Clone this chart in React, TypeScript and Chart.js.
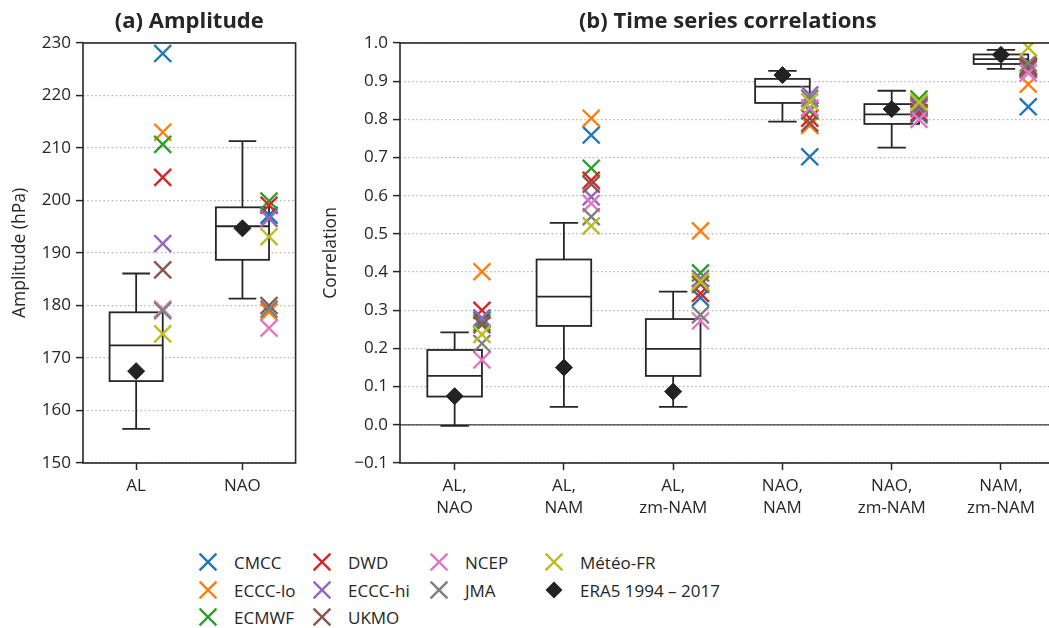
import React, { useEffect, useRef } from 'react';
import { Chart, registerables } from 'chart.js';

Chart.register(...registerables);

const FONT = '"Open Sans", "Noto Sans", sans-serif';
const INK = '#262626';

// ---------- shared ----------
const MODEL_NAMES = ['CMCC', 'ECCC-lo', 'ECMWF', 'DWD', 'ECCC-hi', 'UKMO', 'NCEP', 'JMA', 'Météo-FR'];
const MODEL_COLORS = ['#1f77b4', '#ff7f0e', '#2ca02c', '#d62728', '#9467bd', '#8c564b', '#e377c2', '#7f7f7f', '#bcbd22'];
const ERA5_LABEL = 'ERA5 1994 – 2017';
const ERA5_COLOR = '#222222';

// ---------- (a) Amplitude ----------
const AMP_TITLE = '(a) Amplitude';
const AMP_Y_TITLE = 'Amplitude (hPa)';
const AMP_CATEGORIES = ['AL', 'NAO'];
const AMP_Y_TICKS = [150, 160, 170, 180, 190, 200, 210, 220, 230];
const AMP_WHISKER_LOW = [156.5, 181.3];
const AMP_Q1 = [165.6, 188.7];
const AMP_MEDIAN = [172.4, 195.1];
const AMP_Q3 = [178.7, 198.7];
const AMP_WHISKER_HIGH = [186.1, 211.3];
const AMP_ERA5 = [167.5, 194.7];
const AMP_CMCC = [228.0, 197.2];
const AMP_ECCC_LO = [213.0, 178.8];
const AMP_ECMWF = [210.7, 199.9];
const AMP_DWD = [204.4, 199.1];
const AMP_ECCC_HI = [191.8, 196.6];
const AMP_UKMO = [186.8, 180.0];
const AMP_NCEP = [179.3, 175.7];
const AMP_JMA = [179.0, 179.3];
const AMP_METEO_FR = [174.6, 193.1];
const AMP_MODEL_VALUES = [AMP_CMCC, AMP_ECCC_LO, AMP_ECMWF, AMP_DWD, AMP_ECCC_HI, AMP_UKMO, AMP_NCEP, AMP_JMA, AMP_METEO_FR];

// ---------- (b) Time series correlations ----------
const CORR_TITLE = '(b) Time series correlations';
const CORR_Y_TITLE = 'Correlation';
const CORR_CATEGORIES = [
  ['AL,', 'NAO'],
  ['AL,', 'NAM'],
  ['AL,', 'zm-NAM'],
  ['NAO,', 'NAM'],
  ['NAO,', 'zm-NAM'],
  ['NAM,', 'zm-NAM'],
];
const CORR_Y_TICKS = [-0.1, 0.0, 0.1, 0.2, 0.3, 0.4, 0.5, 0.6, 0.7, 0.8, 0.9, 1.0];
const CORR_WHISKER_LOW = [-0.003, 0.047, 0.047, 0.794, 0.726, 0.932];
const CORR_Q1 = [0.074, 0.259, 0.128, 0.843, 0.788, 0.945];
const CORR_MEDIAN = [0.128, 0.336, 0.199, 0.886, 0.813, 0.958];
const CORR_Q3 = [0.196, 0.433, 0.277, 0.906, 0.840, 0.970];
const CORR_WHISKER_HIGH = [0.242, 0.529, 0.349, 0.927, 0.875, 0.982];
const CORR_ERA5 = [0.075, 0.150, 0.087, 0.916, 0.827, 0.969];
const CORR_CMCC = [0.275, 0.759, 0.333, 0.702, 0.812, 0.833];
const CORR_ECCC_LO = [0.401, 0.803, 0.508, 0.784, 0.832, 0.892];
const CORR_ECMWF = [0.268, 0.672, 0.398, 0.822, 0.853, 0.940];
const CORR_DWD = [0.300, 0.640, 0.344, 0.803, 0.818, 0.938];
const CORR_ECCC_HI = [0.280, 0.597, 0.383, 0.864, 0.828, 0.930];
const CORR_UKMO = [0.262, 0.630, 0.368, 0.790, 0.835, 0.935];
const CORR_NCEP = [0.170, 0.580, 0.272, 0.830, 0.800, 0.921];
const CORR_JMA = [0.213, 0.545, 0.288, 0.855, 0.840, 0.947];
const CORR_METEO_FR = [0.237, 0.521, 0.375, 0.846, 0.845, 0.988];
const CORR_MODEL_VALUES = [CORR_CMCC, CORR_ECCC_LO, CORR_ECMWF, CORR_DWD, CORR_ECCC_HI, CORR_UKMO, CORR_NCEP, CORR_JMA, CORR_METEO_FR];

// ---------- box plot drawing plugin (uses chart scales) ----------
const boxPlugin = {
  id: 'boxes',
  beforeDatasetsDraw(chart: any, _args: any, opts: any) {
    const { ctx, chartArea: ca, scales } = chart;
    const x = scales.x;
    const y = scales.y;
    ctx.save();
    ctx.beginPath();
    ctx.rect(ca.left, ca.top, ca.right - ca.left, ca.bottom - ca.top);
    ctx.clip();
    if (opts.zeroLine) {
      const y0 = y.getPixelForValue(0);
      ctx.strokeStyle = '#3a3a3a';
      ctx.lineWidth = 1.3;
      ctx.beginPath();
      ctx.moveTo(ca.left, y0);
      ctx.lineTo(ca.right, y0);
      ctx.stroke();
    }
    ctx.strokeStyle = INK;
    ctx.lineWidth = 1.8;
    const n = opts.med.length;
    for (let i = 0; i < n; i++) {
      const xl = x.getPixelForValue(i - opts.boxHalf);
      const xr = x.getPixelForValue(i + opts.boxHalf);
      const xc = x.getPixelForValue(i);
      const cl = x.getPixelForValue(i - opts.capHalf);
      const cr = x.getPixelForValue(i + opts.capHalf);
      const pLow = y.getPixelForValue(opts.low[i]);
      const pQ1 = y.getPixelForValue(opts.q1[i]);
      const pMed = y.getPixelForValue(opts.med[i]);
      const pQ3 = y.getPixelForValue(opts.q3[i]);
      const pHigh = y.getPixelForValue(opts.high[i]);
      ctx.beginPath();
      ctx.moveTo(xc, pQ3);
      ctx.lineTo(xc, pHigh);
      ctx.moveTo(xc, pQ1);
      ctx.lineTo(xc, pLow);
      ctx.moveTo(cl, pHigh);
      ctx.lineTo(cr, pHigh);
      ctx.moveTo(cl, pLow);
      ctx.lineTo(cr, pLow);
      ctx.stroke();
      ctx.fillStyle = '#ffffff';
      ctx.fillRect(xl, pQ3, xr - xl, pQ1 - pQ3);
      ctx.strokeRect(xl, pQ3, xr - xl, pQ1 - pQ3);
      ctx.beginPath();
      ctx.moveTo(xl, pMed);
      ctx.lineTo(xr, pMed);
      ctx.stroke();
    }
    ctx.restore();
  },
  afterDatasetsDraw(chart: any) {
    const { ctx, chartArea: ca } = chart;
    ctx.save();
    ctx.strokeStyle = INK;
    ctx.lineWidth = 1.6;
    ctx.strokeRect(ca.left, ca.top, ca.right - ca.left, ca.bottom - ca.top);
    ctx.restore();
  },
};

type PanelSpec = {
  title: string;
  yTitle: string;
  categories: (string | string[])[];
  yTicks: number[];
  yMin: number;
  yMax: number;
  yFormat: (v: number) => string;
  yAxisWidth: number;
  yTitlePad: number;
  padRight: number;
  low: number[];
  q1: number[];
  med: number[];
  q3: number[];
  high: number[];
  era5: number[];
  models: number[][];
  zeroLine: boolean;
};

function buildConfig(p: PanelSpec): any {
  const datasets: any[] = p.models.map((vals, mi) => ({
    label: MODEL_NAMES[mi],
    data: vals.map((v, ci) => ({ x: ci + 0.25, y: v })),
    pointStyle: 'crossRot',
    pointRadius: 12,
    pointHoverRadius: 12,
    borderColor: MODEL_COLORS[mi],
    backgroundColor: MODEL_COLORS[mi],
    borderWidth: 2.4,
    showLine: false,
    clip: 0,
    order: MODEL_NAMES.length - mi,
  }));
  datasets.push({
    label: ERA5_LABEL,
    data: p.era5.map((v, ci) => ({ x: ci, y: v })),
    pointStyle: 'rectRot',
    pointRadius: 8.5,
    pointHoverRadius: 8.5,
    borderColor: ERA5_COLOR,
    backgroundColor: ERA5_COLOR,
    borderWidth: 1,
    showLine: false,
    clip: 0,
    order: 0,
  });
  const n = p.categories.length;
  return {
    type: 'scatter',
    data: { datasets },
    plugins: [boxPlugin],
    options: {
      responsive: false,
      animation: false,
      events: [],
      layout: { padding: { left: 0, right: p.padRight, top: 0, bottom: 0 } },
      plugins: {
        legend: { display: false },
        tooltip: { enabled: false },
        title: {
          display: true,
          text: p.title,
          fullSize: false,
          color: INK,
          font: { family: FONT, size: 22, weight: 'bold', lineHeight: 1.2 },
          padding: { top: 9, bottom: 7.6 },
        },
        boxes: {
          low: p.low, q1: p.q1, med: p.med, q3: p.q3, high: p.high,
          boxHalf: 0.25, capHalf: 0.13, zeroLine: p.zeroLine,
        },
      },
      scales: {
        x: {
          type: 'linear',
          min: -0.5,
          max: n - 0.5,
          afterBuildTicks: (s: any) => { s.ticks = p.categories.map((_, i) => ({ value: i })); },
          afterFit: (s: any) => { s.height = 77; },
          ticks: {
            autoSkip: false,
            maxRotation: 0,
            color: INK,
            padding: 6,
            font: { family: FONT, size: 17, lineHeight: 1.25 },
            callback: (v: any) => p.categories[Math.round(v)],
          },
          grid: { drawOnChartArea: false, drawTicks: true, tickLength: 7, tickColor: INK, tickWidth: 1.5, color: INK },
          border: { display: false },
        },
        y: {
          type: 'linear',
          min: p.yMin,
          max: p.yMax,
          afterBuildTicks: (s: any) => { s.ticks = p.yTicks.map((v) => ({ value: v })); },
          afterFit: (s: any) => { s.width = p.yAxisWidth; },
          ticks: {
            color: INK,
            padding: 5,
            font: { family: FONT, size: 17 },
            callback: (v: any) => p.yFormat(Number(v)),
          },
          grid: { color: '#b3b3b3', lineWidth: 1.2, drawTicks: true, tickLength: 7, tickColor: INK, tickWidth: 1.5 },
          border: { display: false, dash: [1.5, 2.6] },
          title: {
            display: true,
            text: p.yTitle,
            color: INK,
            font: { family: FONT, size: 17.5 },
            padding: { top: p.yTitlePad, bottom: 0 },
          },
        },
      },
    },
  };
}

const LEGEND_COLUMNS = [[0, 1, 2], [3, 4, 5], [6, 7], [8, 9]];

function XIcon({ color }: { color: string }) {
  return (
    <svg width={20} height={20} viewBox="0 0 20 20" style={{ display: 'block' }}>
      <path d="M1.6 1.6 L18.4 18.4 M18.4 1.6 L1.6 18.4" stroke={color} strokeWidth={2.4} fill="none" />
    </svg>
  );
}

function DiamondIcon() {
  return (
    <svg width={20} height={20} viewBox="0 0 20 20" style={{ display: 'block' }}>
      <polygon points="10,1.5 18.5,10 10,18.5 1.5,10" fill={ERA5_COLOR} />
    </svg>
  );
}

export default function App() {
  const refA = useRef<HTMLCanvasElement>(null);
  const refB = useRef<HTMLCanvasElement>(null);

  useEffect(() => {
    const a = new Chart(refA.current as HTMLCanvasElement, buildConfig({
      title: AMP_TITLE,
      yTitle: AMP_Y_TITLE,
      categories: AMP_CATEGORIES,
      yTicks: AMP_Y_TICKS,
      yMin: 150,
      yMax: 230,
      yFormat: (v) => String(Math.round(v)),
      yAxisWidth: 83,
      yTitlePad: 10,
      padRight: 7,
      low: AMP_WHISKER_LOW,
      q1: AMP_Q1,
      med: AMP_MEDIAN,
      q3: AMP_Q3,
      high: AMP_WHISKER_HIGH,
      era5: AMP_ERA5,
      models: AMP_MODEL_VALUES,
      zeroLine: false,
    }));
    const b = new Chart(refB.current as HTMLCanvasElement, buildConfig({
      title: CORR_TITLE,
      yTitle: CORR_Y_TITLE,
      categories: CORR_CATEGORIES,
      yTicks: CORR_Y_TICKS,
      yMin: -0.1,
      yMax: 1.0,
      yFormat: (v) => v.toFixed(1).replace('-', '\u2212'),
      yAxisWidth: 90,
      yTitlePad: 11,
      padRight: 10,
      low: CORR_WHISKER_LOW,
      q1: CORR_Q1,
      med: CORR_MEDIAN,
      q3: CORR_Q3,
      high: CORR_WHISKER_HIGH,
      era5: CORR_ERA5,
      models: CORR_MODEL_VALUES,
      zeroLine: true,
    }));
    return () => {
      a.destroy();
      b.destroy();
    };
  }, []);

  const legendNames = [...MODEL_NAMES, ERA5_LABEL];
  const colX = [208, 322, 439, 554];
  const rowY = [562, 590, 617];

  return (
    <div style={{ position: 'absolute', left: 0, top: 0, width: 1049, height: 628, overflow: 'hidden', background: '#ffffff' }}>
      <canvas ref={refA} width={310} height={540} style={{ position: 'absolute', left: 0, top: 0 }} />
      <canvas ref={refB} width={760} height={540} style={{ position: 'absolute', left: 310, top: 0 }} />
      {LEGEND_COLUMNS.map((col, ci) =>
        col.map((k, ri) => (
          <div
            key={k}
            style={{
              position: 'absolute',
              left: colX[ci] - 10,
              top: rowY[ri] - 12,
              height: 24,
              display: 'flex',
              alignItems: 'center',
              whiteSpace: 'nowrap',
              fontFamily: FONT,
              fontSize: 17,
              color: INK,
            }}
          >
            {k < MODEL_NAMES.length ? <XIcon color={MODEL_COLORS[k]} /> : <DiamondIcon />}
            <span style={{ marginLeft: 16 }}>{legendNames[k]}</span>
          </div>
        ))
      )}
    </div>
  );
}
